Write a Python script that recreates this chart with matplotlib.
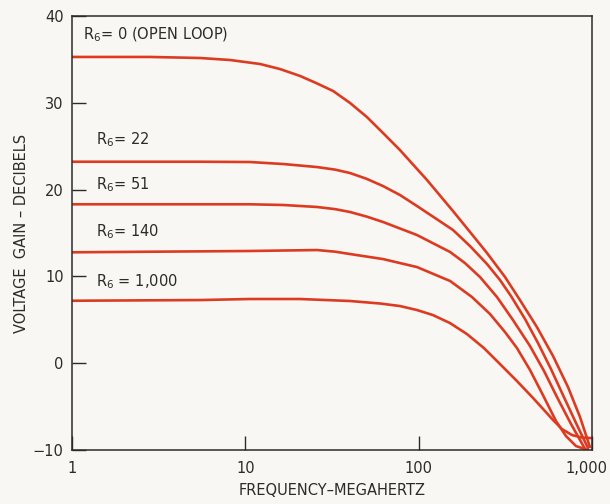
import matplotlib
matplotlib.use('Agg')
import matplotlib.pyplot as plt
from matplotlib.transforms import ScaledTranslation

# frequency (MHz) / gain (dB), one pair of lists per curve
r0_freq = [1, 2.82, 5.48, 8.16, 12.15, 15.85, 20.7, 25.6, 32.1, 40.2, 50.3, 62.3, 78.0,
           111.7, 157.8, 197.8, 247.9, 315, 384, 481, 596, 727, 853, 973]
r0_gain = [35.28, 35.28, 35.16, 34.93, 34.47, 33.89, 33.09, 32.28, 31.36, 29.98, 28.36, 26.52, 24.56,
           21.11, 17.53, 15.12, 12.70, 9.93, 7.28, 4.17, 0.83, -2.74, -6.20, -9.65]

r22_freq = [1, 5.48, 10.6, 16.5, 25.9, 33.0, 40.2, 50.0, 62.3, 78.0, 97.8, 124.3, 157.8, 197.8, 247.9,
            294.6, 341, 411, 488, 580, 680, 809, 948]
r22_gain = [23.21, 23.21, 23.18, 22.95, 22.60, 22.30, 21.91, 21.25, 20.41, 19.38, 18.11, 16.73, 15.35,
            13.50, 11.43, 9.59, 7.74, 5.09, 2.33, -0.67, -3.66, -6.89, -9.77]

r51_freq = [1, 10.6, 16.5, 25.9, 33.0, 40.2, 50.0, 62.3, 97.8, 152, 185, 226, 283, 350, 439, 529, 628,
            757, 912]
r51_gain = [18.31, 18.31, 18.23, 18.0, 17.75, 17.42, 16.90, 16.27, 14.77, 12.81, 11.54, 9.93, 7.63,
            4.98, 1.98, -0.90, -3.89, -7.0, -9.88]

r140_freq = [1, 10.6, 25.9, 33.0, 40.2, 62.3, 97.8, 152, 203, 258, 315, 369, 439, 521, 620, 708,
             809, 948]
r140_gain = [12.78, 12.93, 13.04, 12.85, 12.58, 12.0, 11.08, 9.47, 7.63, 5.67, 3.59, 1.75, -0.78,
             -3.66, -6.66, -8.39, -9.54, -10.0]

r1000_freq = [1, 5.48, 10.6, 20.7, 40.2, 60.0, 78, 97.8, 120.9, 151.6, 190, 238, 294.6, 369, 457,
              535, 596, 671, 767, 876, 1000]
r1000_gain = [7.20, 7.28, 7.40, 7.40, 7.17, 6.88, 6.59, 6.13, 5.55, 4.63, 3.36, 1.75, -0.09, -2.05,
              -4.0, -5.5, -6.54, -7.58, -8.27, -8.56, -8.62]

curve_labels = [r'R$_6$= 0 (OPEN LOOP)', r'R$_6$= 22', r'R$_6$= 51', r'R$_6$= 140', r'R$_6$ = 1,000']
label_freq = [1.16, 1.375, 1.375, 1.375, 1.375]
label_gain = [37.35, 25.25, 20.07, 14.65, 8.9]

x_ticks = [1, 10, 100, 1000]
x_tick_labels = ['1', '10', '100', '1,000']
y_ticks = [-10, 0, 10, 20, 30, 40]
y_tick_labels = ['\u221210', '0', '10', '20', '30', '40']

red = '#dc3b22'
ink = '#2b2b2b'
paper = '#f8f7f3'

plt.rcParams['font.family'] = ['DejaVu Sans']
plt.rcParams['mathtext.fontset'] = 'dejavusans'

fig = plt.figure(figsize=(6.1, 5.04), dpi=100, facecolor=paper)
ax = fig.add_axes([0.118, 0.107, 0.8525, 0.8613])
ax.set_facecolor(paper)

for fr, gn in [(r0_freq, r0_gain), (r22_freq, r22_gain), (r51_freq, r51_gain),
               (r140_freq, r140_gain), (r1000_freq, r1000_gain)]:
    ax.plot(fr, gn, color=red, linewidth=1.9, solid_joinstyle='round', solid_capstyle='round')

for txt, fx, gy in zip(curve_labels, label_freq, label_gain):
    ax.text(fx, gy, txt, fontsize=10.5, color=ink, ha='left', va='baseline')

ax.set_xscale('log')
ax.set_xlim(1, 1000)
ax.set_ylim(-10, 40)
ax.set_xticks(x_ticks)
ax.set_xticklabels(x_tick_labels)
ax.minorticks_off()
ax.set_yticks(y_ticks)
ax.set_yticklabels(y_tick_labels)

ax.tick_params(direction='in', length=10, width=1, colors=ink, labelsize=10.5, pad=6)
ax.tick_params(axis='x', pad=8)
for sp in ax.spines.values():
    sp.set_color(ink)
    sp.set_linewidth(1.1)

# the last x label sits a little left of its tick, as in the original
last = ax.get_xticklabels()[-1]
last.set_transform(last.get_transform() + ScaledTranslation(-0.06, 0, fig.dpi_scale_trans))

ax.set_xlabel('FREQUENCY\u2013MEGAHERTZ', fontsize=10.5, color=ink, labelpad=5)
ax.set_ylabel('VOLTAGE  GAIN \u2013 DECIBELS', fontsize=10.5, color=ink, labelpad=3)

fig.savefig('out.png', dpi=100, facecolor=paper)
